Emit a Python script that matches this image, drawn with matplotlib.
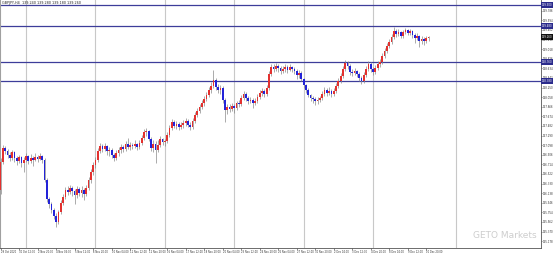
import matplotlib
matplotlib.use('Agg')
import matplotlib.pyplot as plt
import numpy as np

# GBPJPY H4 candles
opens = [
    136.20, 136.76, 137.04, 136.98, 136.90, 136.84, 136.96, 136.84, 136.78, 136.86,
    136.74, 136.80, 136.88, 136.78, 136.84, 136.80, 136.86, 136.82, 136.88, 136.80,
    136.40, 136.02, 135.92, 135.80, 135.68, 135.56, 135.76, 135.94, 136.06, 136.20,
    136.16, 136.24, 136.18, 136.10, 136.22, 136.14, 136.20, 136.12, 136.24, 136.40,
    136.56, 136.70, 136.80, 136.98, 137.08, 137.02, 137.08, 136.98, 137.00, 136.90,
    136.84, 136.94, 137.00, 137.06, 137.02, 137.12, 137.06, 137.10, 137.08, 137.12,
    137.06, 137.14, 137.24, 137.36, 137.38, 137.22, 137.04, 137.12, 137.00, 137.10,
    137.22, 137.16, 137.18, 137.30, 137.44, 137.56, 137.48, 137.52, 137.46, 137.50,
    137.54, 137.58, 137.50, 137.46, 137.58, 137.70, 137.78, 137.86, 137.94, 138.02,
    138.10, 138.20, 138.28, 138.40, 138.26, 138.20, 138.24, 138.00, 137.80, 137.86,
    137.82, 137.88, 137.84, 137.94, 137.92, 138.04, 138.12, 138.04, 137.98, 138.00,
    137.94, 137.98, 138.06, 138.14, 138.18, 138.12, 138.24, 138.52, 138.66, 138.62,
    138.68, 138.64, 138.58, 138.62, 138.66, 138.60, 138.66, 138.62, 138.58, 138.50,
    138.54, 138.42, 138.30, 138.20, 138.10, 138.04, 138.02, 137.98, 138.00, 138.04,
    138.12, 138.20, 138.14, 138.18, 138.12, 138.18, 138.28, 138.38, 138.48, 138.62,
    138.74, 138.68, 138.56, 138.54, 138.58, 138.52, 138.44, 138.38, 138.50, 138.62,
    138.72, 138.62, 138.56, 138.64, 138.72, 138.76, 138.88, 138.98, 139.08, 139.16,
    139.26, 139.38, 139.32, 139.36, 139.28, 139.36, 139.40, 139.34, 139.38, 139.30,
    139.24, 139.28, 139.18, 139.22, 139.18, 139.24,
]
highs = [
    136.84, 137.10, 137.08, 137.02, 136.96, 137.00, 136.98, 136.88, 136.90, 136.88,
    136.86, 136.94, 136.90, 136.92, 136.88, 136.94, 136.90, 136.94, 136.90, 136.84,
    136.44, 136.06, 135.96, 135.84, 135.74, 135.80, 136.00, 136.12, 136.26, 136.28,
    136.30, 136.28, 136.22, 136.28, 136.26, 136.28, 136.24, 136.30, 136.46, 136.62,
    136.76, 136.86, 137.04, 137.14, 137.12, 137.14, 137.10, 137.06, 137.04, 136.94,
    137.00, 137.06, 137.12, 137.10, 137.18, 137.24, 137.16, 137.14, 137.20, 137.14,
    137.20, 137.30, 137.42, 137.44, 137.40, 137.26, 137.20, 137.18, 137.20, 137.28,
    137.24, 137.22, 137.36, 137.50, 137.62, 137.60, 137.58, 137.56, 137.56, 137.60,
    137.64, 137.62, 137.56, 137.64, 137.76, 137.84, 137.92, 138.00, 138.08, 138.16,
    138.26, 138.36, 138.60, 138.44, 138.32, 138.30, 138.28, 138.04, 137.92, 137.92,
    137.94, 137.92, 137.98, 138.00, 138.10, 138.18, 138.16, 138.08, 138.06, 138.04,
    138.04, 138.12, 138.20, 138.24, 138.22, 138.30, 138.58, 138.72, 138.72, 138.74,
    138.72, 138.68, 138.68, 138.72, 138.70, 138.72, 138.68, 138.66, 138.62, 138.60,
    138.58, 138.44, 138.32, 138.24, 138.12, 138.08, 138.06, 138.06, 138.08, 138.18,
    138.26, 138.24, 138.26, 138.22, 138.24, 138.34, 138.44, 138.54, 138.68, 138.80,
    138.78, 138.72, 138.62, 138.64, 138.60, 138.56, 138.48, 138.56, 138.68, 138.78,
    138.76, 138.66, 138.70, 138.78, 138.82, 138.94, 139.04, 139.14, 139.22, 139.32,
    139.46, 139.42, 139.42, 139.38, 139.40, 139.44, 139.42, 139.42, 139.40, 139.34,
    139.34, 139.30, 139.28, 139.26, 139.28, 139.28,
]
lows = [
    136.12, 136.72, 136.92, 136.84, 136.78, 136.80, 136.76, 136.70, 136.74, 136.66,
    136.56, 136.76, 136.72, 136.74, 136.68, 136.78, 136.76, 136.80, 136.74, 136.36,
    135.96, 135.84, 135.74, 135.62, 135.46, 135.52, 135.72, 135.90, 136.02, 136.10,
    136.12, 136.08, 135.92, 136.04, 136.08, 136.06, 136.00, 136.08, 136.20, 136.34,
    136.50, 136.64, 136.76, 136.94, 136.96, 136.98, 136.90, 136.88, 136.84, 136.78,
    136.80, 136.88, 136.94, 136.96, 136.98, 137.02, 137.00, 137.02, 137.04, 137.00,
    137.02, 137.10, 137.20, 137.28, 137.18, 136.98, 136.96, 136.74, 136.96, 137.06,
    137.10, 137.08, 137.14, 137.26, 137.40, 137.44, 137.42, 137.40, 137.42, 137.44,
    137.48, 137.46, 137.40, 137.42, 137.54, 137.66, 137.74, 137.82, 137.88, 137.98,
    138.06, 138.14, 138.24, 138.20, 138.14, 138.12, 137.94, 137.56, 137.72, 137.76,
    137.78, 137.74, 137.80, 137.86, 137.88, 138.00, 137.98, 137.92, 137.94, 137.84,
    137.90, 137.94, 138.02, 138.08, 138.06, 138.08, 138.20, 138.48, 138.56, 138.58,
    138.56, 138.52, 138.54, 138.56, 138.54, 138.58, 138.56, 138.52, 138.42, 138.44,
    138.38, 138.24, 138.14, 138.06, 137.98, 137.94, 137.90, 137.92, 137.96, 138.00,
    138.08, 138.08, 138.10, 138.06, 138.08, 138.14, 138.24, 138.34, 138.44, 138.58,
    138.62, 138.50, 138.48, 138.50, 138.46, 138.38, 138.32, 138.34, 138.46, 138.58,
    138.56, 138.50, 138.52, 138.60, 138.66, 138.72, 138.84, 138.94, 139.04, 139.12,
    139.22, 139.26, 139.28, 139.24, 139.24, 139.32, 139.30, 139.30, 139.24, 139.14,
    139.20, 139.06, 139.12, 139.10, 139.14, 139.18,
]
closes = [
    136.76, 137.04, 136.98, 136.90, 136.84, 136.96, 136.84, 136.78, 136.86, 136.74,
    136.80, 136.88, 136.78, 136.84, 136.80, 136.86, 136.82, 136.88, 136.80, 136.40,
    136.02, 135.92, 135.80, 135.68, 135.56, 135.76, 135.94, 136.06, 136.20, 136.16,
    136.24, 136.18, 136.10, 136.22, 136.14, 136.20, 136.12, 136.24, 136.40, 136.56,
    136.70, 136.80, 136.98, 137.08, 137.02, 137.08, 136.98, 137.00, 136.90, 136.84,
    136.94, 137.00, 137.06, 137.02, 137.12, 137.06, 137.10, 137.08, 137.12, 137.06,
    137.14, 137.24, 137.36, 137.38, 137.22, 137.04, 137.12, 137.00, 137.10, 137.22,
    137.16, 137.18, 137.30, 137.44, 137.56, 137.48, 137.52, 137.46, 137.50, 137.54,
    137.58, 137.50, 137.46, 137.58, 137.70, 137.78, 137.86, 137.94, 138.02, 138.10,
    138.20, 138.28, 138.40, 138.26, 138.20, 138.24, 138.00, 137.80, 137.86, 137.82,
    137.88, 137.84, 137.94, 137.92, 138.04, 138.12, 138.04, 137.98, 138.00, 137.94,
    137.98, 138.06, 138.14, 138.18, 138.12, 138.24, 138.52, 138.66, 138.62, 138.68,
    138.64, 138.58, 138.62, 138.66, 138.60, 138.66, 138.62, 138.58, 138.50, 138.54,
    138.42, 138.30, 138.20, 138.10, 138.04, 138.02, 137.98, 138.00, 138.04, 138.12,
    138.20, 138.14, 138.18, 138.12, 138.18, 138.28, 138.38, 138.48, 138.62, 138.74,
    138.68, 138.56, 138.54, 138.58, 138.52, 138.44, 138.38, 138.50, 138.62, 138.72,
    138.62, 138.56, 138.64, 138.72, 138.76, 138.88, 138.98, 139.08, 139.16, 139.26,
    139.38, 139.32, 139.36, 139.28, 139.36, 139.40, 139.34, 139.38, 139.30, 139.24,
    139.28, 139.18, 139.22, 139.18, 139.24, 139.26,
]

levels = [139.90, 139.48, 138.76, 138.38]
separators = [11, 41, 71, 101, 131, 161, 197]

date_ticks = [0, 8, 16, 24, 32, 40, 48, 56, 64, 72, 80, 88,
              96, 104, 112, 120, 128, 136, 144, 152, 160, 168, 176, 184]
date_labels = ['29 Oct 2020', '30 Oct 12:00', '2 Nov 20:00', '4 Nov 04:00',
               '5 Nov 12:00', '6 Nov 20:00', '10 Nov 04:00', '11 Nov 12:00',
               '12 Nov 20:00', '16 Nov 04:00', '17 Nov 12:00', '18 Nov 20:00',
               '20 Nov 04:00', '23 Nov 12:00', '24 Nov 20:00', '26 Nov 04:00',
               '27 Nov 12:00', '30 Nov 20:00', '2 Dec 04:00', '3 Dec 12:00',
               '4 Dec 20:00', '8 Dec 04:00', '9 Dec 12:00', '10 Dec 20:00']

o = np.array(opens)
h = np.array(highs)
l = np.array(lows)
c = np.array(closes)
x = np.arange(len(c))

fig = plt.figure(figsize=(5.54, 2.56), dpi=100)
ax = fig.add_axes([0, 8 / 256, 541 / 554, 248 / 256])
ax.set_xlim(-0.26, 233.6)
ax.set_ylim(135.04, 140.0)

for s in separators:
    ax.axvline(s, color='#c8c8c8', lw=0.8, zorder=1)
for lev in levels:
    ax.axhline(lev, color='#3d3d9a', lw=0.9, zorder=1)

up = c >= o
cols = np.where(up, '#e3312f', '#2323d8')
lo = np.minimum(l, np.minimum(o, c))
hi = np.maximum(h, np.maximum(o, c))
ax.vlines(x, lo, hi, color='#8a8a8a', lw=0.5, zorder=2)
body = np.maximum(np.abs(c - o), 0.008)
ax.bar(x, body, bottom=np.minimum(o, c), width=0.75, color=cols, linewidth=0, zorder=3)

# price scale on the right
ax.yaxis.tick_right()
yt = np.arange(139.786, 135.1, -0.192)
ax.set_yticks(yt)
ax.set_yticklabels(['%.3f' % v for v in yt])
ax.set_xticks(date_ticks)
ax.set_xticklabels(date_labels, ha='left')
ax.tick_params(axis='y', labelsize=1.9, length=1.0, width=0.4, pad=0.5, colors='#333333')
ax.tick_params(axis='x', labelsize=1.8, length=1.2, width=0.4, pad=0.5, colors='#333333')

ax.spines['top'].set_visible(False)
ax.spines['left'].set_color('#a0a0a0')
ax.spines['left'].set_linewidth(1.5)
ax.spines['right'].set_color('#555555')
ax.spines['right'].set_linewidth(0.6)
ax.spines['bottom'].set_color('#555555')
ax.spines['bottom'].set_linewidth(0.6)

for lev in levels:
    ax.text(1.002, lev, '%.3f' % lev, transform=ax.get_yaxis_transform(),
            fontsize=1.9, color='white', va='center', ha='left', clip_on=False,
            bbox=dict(boxstyle='square,pad=0.3', fc='#2b2b8c', ec='none'), zorder=5)
ax.text(1.002, c[-1], '%.3f' % c[-1], transform=ax.get_yaxis_transform(),
        fontsize=1.9, color='white', va='center', ha='left', clip_on=False,
        bbox=dict(boxstyle='square,pad=0.3', fc='#111111', ec='none'), zorder=5)

fig.text(0.004, 0.997, 'GBPJPY,H4  %.3f %.3f %.3f %.3f' % (o[-1], h[-1], l[-1], c[-1]),
         fontsize=2.4, color='#222222', va='top', ha='left')

ax.text(0.875, 0.05, 'GETO Markets', transform=ax.transAxes, fontsize=6.5,
        color='#cdcdcd', ha='left', va='center')

fig.savefig('out.png', dpi=100)
